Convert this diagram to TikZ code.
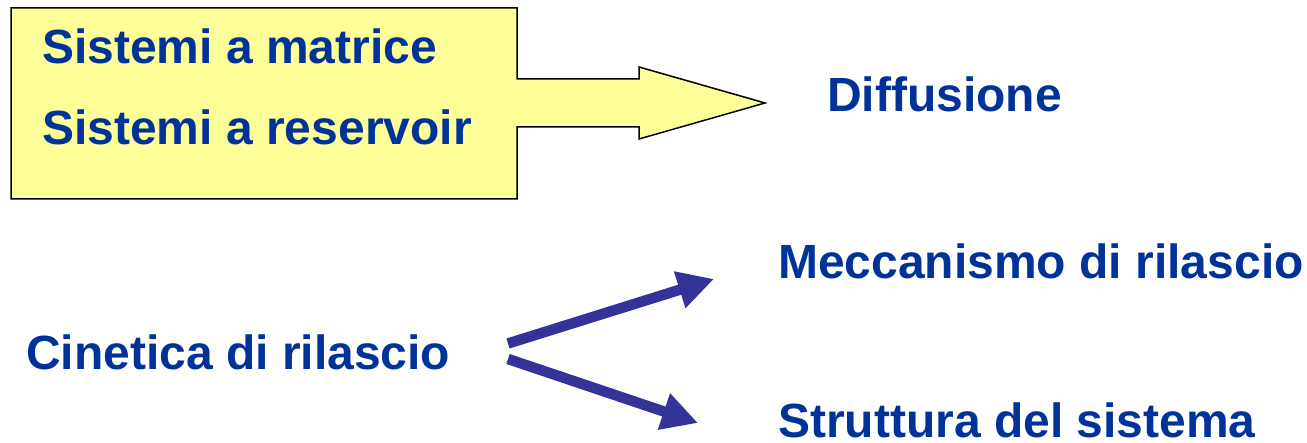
\documentclass[tikz,border=0pt]{standalone}
\usepackage{fontspec}
\setmainfont{Liberation Sans}
\usetikzlibrary{arrows.meta}
\definecolor{labelblue}{HTML}{003399}
\definecolor{arrowblue}{HTML}{333399}
\definecolor{paleyellow}{HTML}{FFFF99}
\tikzset{
  label text/.style={anchor=base west, inner sep=0pt, text=labelblue,
    font=\fontsize{48}{58}\selectfont\bfseries},
  fat arrow/.style={draw=arrowblue, line width=10.5pt,
    -{Triangle[length=36pt, width=36pt]}},
  block arrow/.style={draw=black, line width=1.5pt, fill=paleyellow, line join=miter}
}
\begin{document}
\begin{tikzpicture}[x=1pt, y=-1pt]
  \useasboundingbox (0,0) rectangle (1307,443);

  % yellow box merging into a block arrow
  \draw[block arrow] (11,8) -- (517,8) -- (517,79) -- (639,79) -- (639,67)
    -- (765,103) -- (639,139) -- (639,127) -- (517,127) -- (517,199)
    -- (11,199) -- cycle;

  \node[label text] (matrice) at (42,64) {Sistemi a matrice};
  \node[label text] (reservoir) at (42,145) {Sistemi a reservoir};
  \node[label text] (diffusione) at (827,112) {Diffusione};

  \node[label text] (cinetica) at (26,370) {Cinetica di rilascio};
  \node[label text] (meccanismo) at (778,279) {Meccanismo di rilascio};
  % this line has no descenders, so its box ends at the baseline
  \node[label text, text depth=0pt] (struttura) at (778,438) {Struttura del sistema};

  % branching arrows
  \coordinate (upstart) at (508,343.5);
  \coordinate (uptip) at (714,279);
  \coordinate (downstart) at (508,359);
  \coordinate (downtip) at (698,423);
  \draw[fat arrow] (upstart) -- (uptip);
  \draw[fat arrow] (downstart) -- (downtip);
\end{tikzpicture}
\end{document}
